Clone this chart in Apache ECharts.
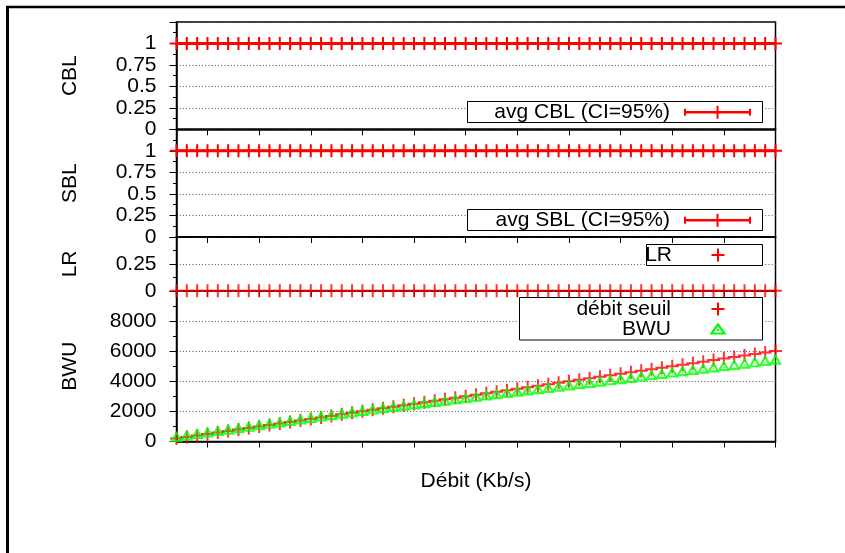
<!DOCTYPE html>
<html>
<head>
<meta charset="utf-8">
<script src="https://cdn.jsdelivr.net/npm/echarts@6/dist/echarts.min.js"></script>
<style>
  html, body { margin: 0; padding: 0; background: #fff; }
  #chart { width: 845px; height: 553px; }
</style>
</head>
<body>
<div id="chart"></div>
<script>
// Throughput values (Kb/s) on the shared x axis
const debit = [200, 300, 400, 500, 600, 700, 800, 900, 1000, 1100,
  1200, 1300, 1400, 1500, 1600, 1700, 1800, 1900, 2000, 2100,
  2200, 2300, 2400, 2500, 2600, 2700, 2800, 2900, 3000, 3100,
  3200, 3300, 3400, 3500, 3600, 3700, 3800, 3900, 4000, 4100,
  4200, 4300, 4400, 4500, 4600, 4700, 4800, 4900, 5000, 5100,
  5200, 5300, 5400, 5500, 5600, 5700, 5800, 5900, 6000];

// Average CBL and SBL (confidence interval collapses to zero width)
const cbl = [1, 1, 1, 1, 1, 1, 1, 1, 1, 1, 1, 1, 1, 1, 1, 1, 1, 1, 1, 1,
  1, 1, 1, 1, 1, 1, 1, 1, 1, 1, 1, 1, 1, 1, 1, 1, 1, 1, 1, 1,
  1, 1, 1, 1, 1, 1, 1, 1, 1, 1, 1, 1, 1, 1, 1, 1, 1, 1, 1];
const sbl = [1, 1, 1, 1, 1, 1, 1, 1, 1, 1, 1, 1, 1, 1, 1, 1, 1, 1, 1, 1,
  1, 1, 1, 1, 1, 1, 1, 1, 1, 1, 1, 1, 1, 1, 1, 1, 1, 1, 1, 1,
  1, 1, 1, 1, 1, 1, 1, 1, 1, 1, 1, 1, 1, 1, 1, 1, 1, 1, 1];

// Loss rate
const lr = [0, 0, 0, 0, 0, 0, 0, 0, 0, 0, 0, 0, 0, 0, 0, 0, 0, 0, 0, 0,
  0, 0, 0, 0, 0, 0, 0, 0, 0, 0, 0, 0, 0, 0, 0, 0, 0, 0, 0, 0,
  0, 0, 0, 0, 0, 0, 0, 0, 0, 0, 0, 0, 0, 0, 0, 0, 0, 0, 0];

// Threshold throughput and measured bandwidth usage
const debitSeuil = [200, 300, 400, 500, 600, 700, 800, 900, 1000, 1100,
  1200, 1300, 1400, 1500, 1600, 1700, 1800, 1900, 2000, 2100,
  2200, 2300, 2400, 2500, 2600, 2700, 2800, 2900, 3000, 3100,
  3200, 3300, 3400, 3500, 3600, 3700, 3800, 3900, 4000, 4100,
  4200, 4300, 4400, 4500, 4600, 4700, 4800, 4900, 5000, 5100,
  5200, 5300, 5400, 5500, 5600, 5700, 5800, 5900, 6000];
const bwu = [300, 395, 490, 590, 685, 780, 875, 970, 1065, 1165,
  1260, 1355, 1450, 1550, 1645, 1740, 1830, 1925, 2015, 2110,
  2200, 2285, 2370, 2450, 2535, 2620, 2705, 2790, 2870, 2955,
  3040, 3125, 3210, 3290, 3375, 3460, 3545, 3630, 3710, 3795,
  3880, 3965, 4050, 4130, 4215, 4300, 4390, 4475, 4565, 4650,
  4740, 4825, 4910, 4990, 5075, 5160, 5245, 5335, 5420];

// Tick positions
const xTicks = [500, 1000, 1500, 2000, 2500, 3000, 3500, 4000, 4500, 5000, 5500, 6000];
const blLabels = [0, 0.25, 0.5, 0.75, 1];
const lrLabels = [0, 0.25];
const bwuLabels = [0, 2000, 4000, 6000, 8000];

const FONT = 'Liberation Sans, Arial, Helvetica, sans-serif';
const FS = 21;
const RED = '#ff0000';
const GREEN = '#00ff00';
const CROSS = 'path://M5.5 0h2v13h-2zM0 5.5h13v2h-13z';
// open triangle with a centre dot (outer clockwise, hole counter-clockwise)
const TRI = 'path://M50 0L100 90L0 90ZM50 34L29 72L71 72ZM45 55h10v10h-10Z';

const pairs = (ys) => debit.map((x, i) => [x, ys[i]]);

const L = 176.5, W = 599;
const panels = [
  { top: 22, height: 107.3 },
  { top: 129.3, height: 107.7 },
  { top: 237, height: 53.8 },
  { top: 290.8, height: 150.7 }
];

const grids = panels.map(p => ({
  left: L, width: W, top: p.top, height: p.height,
  show: true, borderColor: '#000', borderWidth: 1.5, backgroundColor: 'transparent'
}));

const xAxes = panels.map((p, i) => ({
  type: 'value', gridIndex: i, min: 200, max: 6000,
  axisLine: { show: true, onZero: false, lineStyle: { color: '#000', width: 1.5 } },
  axisTick: { show: true, customValues: xTicks, length: 6, lineStyle: { color: '#000', width: 1 } },
  axisLabel: { show: false },
  splitLine: { show: false },
  name: i === 3 ? 'Débit (Kb/s)' : '',
  nameLocation: 'middle', nameGap: 29,
  nameTextStyle: { fontFamily: FONT, fontSize: FS, color: '#000' }
}));

function yAxis(i, name, max, interval, labels) {
  return {
    type: 'value', gridIndex: i, min: 0, max: max, interval: interval,
    name: name, nameLocation: 'middle', nameGap: 96,
    nameTextStyle: { fontFamily: FONT, fontSize: FS, color: '#000' },
    axisLine: { show: true, lineStyle: { color: '#000', width: 1.5 } },
    axisTick: { show: true, length: 7, lineStyle: { color: '#000', width: 1 } },
    minorTick: { show: true, splitNumber: 2, length: 3.5, lineStyle: { color: '#000', width: 1 } },
    axisLabel: {
      customValues: labels, margin: 20,
      fontFamily: FONT, fontSize: FS, color: '#000',
      formatter: (v) => String(v)
    },
    splitLine: { show: true, lineStyle: { color: '#555', width: 1, type: [1, 2.2] } }
  };
}

const yAxes = [
  yAxis(0, 'CBL', 1.25, 0.25, blLabels),
  yAxis(1, 'SBL', 1.25, 0.25, blLabels),
  yAxis(2, 'LR', 0.5, 0.25, lrLabels),
  yAxis(3, 'BWU', 10000, 2000, bwuLabels)
];

const crossStyle = { color: RED, borderWidth: 0 };

const series = [
  {
    name: 'avg CBL (CI=95%)', type: 'line', xAxisIndex: 0, yAxisIndex: 0,
    data: pairs(cbl), clip: false, symbol: CROSS, symbolSize: 13,
    lineStyle: { color: RED, width: 3 }, itemStyle: crossStyle, animation: false
  },
  {
    name: 'avg SBL (CI=95%)', type: 'line', xAxisIndex: 1, yAxisIndex: 1,
    data: pairs(sbl), clip: false, symbol: CROSS, symbolSize: 13,
    lineStyle: { color: RED, width: 3 }, itemStyle: crossStyle, animation: false
  },
  {
    name: 'LR', type: 'scatter', xAxisIndex: 2, yAxisIndex: 2,
    data: pairs(lr), clip: false, symbol: CROSS, symbolSize: 13,
    itemStyle: crossStyle, animation: false
  },
  {
    name: 'débit seuil', type: 'scatter', xAxisIndex: 3, yAxisIndex: 3,
    data: pairs(debitSeuil), clip: false, symbol: CROSS, symbolSize: 13,
    itemStyle: crossStyle, animation: false
  },
  {
    name: 'BWU', type: 'scatter', xAxisIndex: 3, yAxisIndex: 3,
    data: pairs(bwu), clip: false, symbol: TRI, symbolSize: [13, 11], symbolOffset: [0, -0.6],
    itemStyle: { color: GREEN, borderWidth: 0 }, animation: false
  }
];

// Key boxes drawn in the upper-right of each panel
function keyBox(x, y, w, h) {
  return { type: 'rect', shape: { x: x, y: y, width: w, height: h },
    style: { fill: '#fff', stroke: '#000', lineWidth: 1 }, z: 10 };
}
function keyText(txt, xr, yc) {
  return { type: 'text', x: xr, y: yc, z: 11,
    style: { text: txt, fill: '#000', font: FS + 'px ' + FONT, align: 'right', verticalAlign: 'middle' } };
}
function keyCross(xc, yc) {
  return [
    { type: 'line', z: 11, shape: { x1: xc - 6.5, y1: yc, x2: xc + 6.5, y2: yc }, style: { stroke: RED, lineWidth: 2 } },
    { type: 'line', z: 11, shape: { x1: xc, y1: yc - 6.5, x2: xc, y2: yc + 6.5 }, style: { stroke: RED, lineWidth: 2 } }
  ];
}
function keyErrorBar(x1, x2, yc) {
  const xc = (x1 + x2) / 2;
  return [
    { type: 'line', z: 11, shape: { x1: x1, y1: yc, x2: x2, y2: yc }, style: { stroke: RED, lineWidth: 2.5 } },
    { type: 'line', z: 11, shape: { x1: x1, y1: yc - 3.5, x2: x1, y2: yc + 3.5 }, style: { stroke: RED, lineWidth: 2 } },
    { type: 'line', z: 11, shape: { x1: x2, y1: yc - 3.5, x2: x2, y2: yc + 3.5 }, style: { stroke: RED, lineWidth: 2 } },
    { type: 'line', z: 11, shape: { x1: xc, y1: yc - 6.5, x2: xc, y2: yc + 6.5 }, style: { stroke: RED, lineWidth: 2 } }
  ];
}
function keyTriangle(xc, yc) {
  return [
    { type: 'polygon', z: 11, shape: { points: [[xc, yc - 4.5], [xc + 6.5, yc + 4.5], [xc - 6.5, yc + 4.5]] },
      style: { fill: 'none', stroke: GREEN, lineWidth: 2.2 } },
    { type: 'rect', z: 11, shape: { x: xc - 1, y: yc, width: 2, height: 2 }, style: { fill: GREEN } }
  ];
}

const graphics = [
  // frame
  { type: 'line', shape: { x1: 6, y1: 7, x2: 845, y2: 7 }, style: { stroke: '#000', lineWidth: 2.5 } },
  { type: 'line', shape: { x1: 7.5, y1: 6, x2: 7.5, y2: 553 }, style: { stroke: '#000', lineWidth: 3 } },
  keyBox(467.5, 101.5, 295, 21), keyText('avg CBL (CI=95%)', 670, 112.5), ...keyErrorBar(685, 750, 112.3),
  keyBox(467.5, 209.5, 295, 21), keyText('avg SBL (CI=95%)', 670, 220.3), ...keyErrorBar(685, 750, 220.3),
  keyBox(646.5, 244.5, 116, 21), keyText('LR', 672, 255), ...keyCross(718, 255),
  keyBox(519.5, 297.5, 243, 42.5), keyText('débit seuil', 671, 309), ...keyCross(718, 309),
  keyText('BWU', 671, 329), ...keyTriangle(718, 329)
];

const chart = echarts.init(document.getElementById('chart'), null, { renderer: 'canvas' });
chart.setOption({
  animation: false,
  backgroundColor: '#fff',
  grid: grids,
  xAxis: xAxes,
  yAxis: yAxes,
  series: series,
  graphic: { elements: graphics }
});
</script>
</body>
</html>
